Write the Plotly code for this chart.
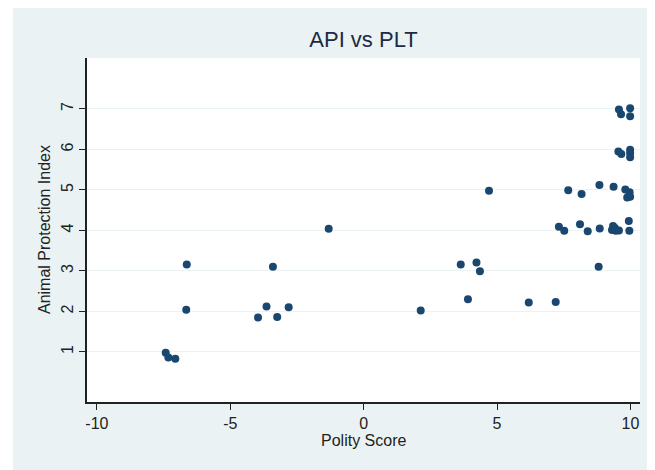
import plotly.graph_objects as go

# Polity score (x) and animal protection index (y)
polity = [-7.42, -7.32, -7.06, -6.65, -6.63, -3.96, -3.64, -3.40, -3.24, -2.81,
          -1.31, 2.14, 3.64, 3.91, 4.23, 4.36, 4.70, 6.19, 7.20, 7.32,
          7.52, 7.67, 8.11, 8.17, 8.40, 8.81, 8.84, 8.85, 9.31, 9.35,
          9.37, 9.42, 9.45, 9.57, 9.81, 9.88, 9.94, 9.96, 9.97, 9.99,
          9.55, 9.66, 9.99, 9.99, 9.99, 9.57, 9.65, 9.99, 9.99]
api = [0.98, 0.86, 0.83, 2.04, 3.16, 1.85, 2.12, 3.10, 1.86, 2.10,
       4.04, 2.02, 3.16, 2.30, 3.21, 2.99, 4.98, 2.22, 2.23, 4.09,
       3.99, 4.99, 4.15, 4.90, 3.98, 3.10, 5.12, 4.05, 4.01, 4.11,
       5.08, 4.06, 3.99, 4.00, 5.01, 4.81, 4.23, 3.99, 4.94, 4.83,
       5.95, 5.89, 5.99, 5.91, 5.81, 6.99, 6.87, 7.02, 6.82]

x_ticks = [-10, -5, 0, 5, 10]
x_labels = ['-10', '-5', '0', '5', '10']  # plain hyphens like the original
y_ticks = [1, 2, 3, 4, 5, 6, 7]

panel = '#eaf2f3'
navy = '#1a476f'
font = 'Liberation Sans, Arial, sans-serif'

# page adds an 8px body margin, so figure coords are screenshot coords - 8
L, R, T, B = 79, 632, 50, 394
W, H = 655, 470
pw, ph = R - L, B - T

fig = go.Figure()
fig.add_trace(go.Scatter(x=polity, y=api, mode='markers',
                         marker=dict(color=navy, size=8, line=dict(width=0)),
                         showlegend=False))

fig.update_layout(
    width=W, height=H,
    margin=dict(l=L, r=W - R, t=T, b=H - B, autoexpand=False),
    paper_bgcolor=panel, plot_bgcolor='white',
    font=dict(family=font, color='#222222'),
    title=dict(text='API vs PLT', x=(L + R) / 2 / W, xanchor='center',
               y=1 - 31 / H, yanchor='middle',
               font=dict(size=22, color='#1f2a44')),
    xaxis=dict(range=[-10.37, 10.36], tickvals=x_ticks, ticktext=x_labels,
               showgrid=False, automargin=False,
               zeroline=False, showline=True, linecolor='#222222', linewidth=1.5,
               ticks='outside', ticklen=6, tickcolor='#222222',
               tickfont=dict(size=16)),
    yaxis=dict(range=[-0.24, 8.26], tickvals=y_ticks, showgrid=True,
               gridcolor=panel, gridwidth=1, zeroline=False, showline=True,
               automargin=False,
               linecolor='#222222', linewidth=1.5, ticks='outside', ticklen=6,
               tickcolor='#222222', tickangle=-90, tickfont=dict(size=16)),
    annotations=[
        dict(text='Polity Score', xref='paper', yref='paper',
             x=0.5, y=-(432 - B) / ph, xanchor='center', yanchor='middle',
             showarrow=False, font=dict(size=16)),
        dict(text='Animal Protection Index', xref='paper', yref='paper',
             x=-(L - 36) / pw, y=0.5, xanchor='center', yanchor='middle',
             textangle=-90, showarrow=False, font=dict(size=16)),
    ],
    shapes=[
        # thin white strip on the left of the panel, as in the reference
        dict(type='rect', xref='paper', yref='paper', layer='below',
             x0=-L / pw, x1=(5 - L) / pw, y0=-1, y1=2,
             fillcolor='white', line=dict(width=0)),
    ],
)

fig.write_html("out.html")
